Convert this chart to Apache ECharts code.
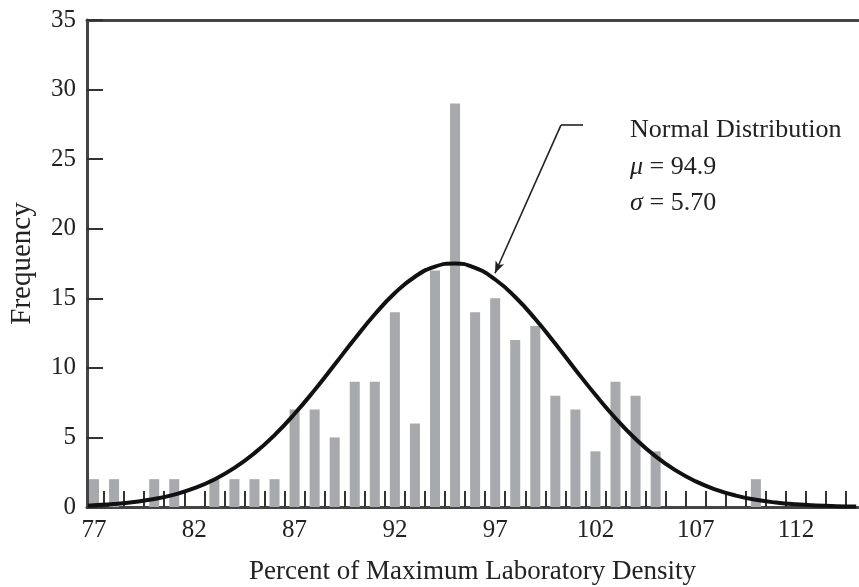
<!DOCTYPE html>
<html>
<head>
<meta charset="utf-8">
<script src="https://cdn.jsdelivr.net/npm/echarts@6/dist/echarts.min.js"></script>
<style>
html,body{margin:0;padding:0;background:#fff;}
#chart{width:859px;height:587px;}
</style>
</head>
<body>
<div id="chart"></div>
<script>
// ---- data ----
const binCenters = [77,78,79,80,81,82,83,84,85,86,87,88,89,90,91,92,93,94,95,96,97,98,99,100,101,102,103,104,105,106,107,108,109,110,111,112,113,114];
const frequencies = [2,2,0,2,2,0,2,2,2,2,7,7,5,9,9,14,6,17,29,14,15,12,13,8,7,4,9,8,4,0,0,0,0,2,0,0,0,0];
const binEdges = [77.5,78.5,79.5,80.5,81.5,82.5,83.5,84.5,85.5,86.5,87.5,88.5,89.5,90.5,91.5,92.5,93.5,94.5,95.5,96.5,97.5,98.5,99.5,100.5,101.5,102.5,103.5,104.5,105.5,106.5,107.5,108.5,109.5,110.5,111.5,112.5,113.5,114.5];
const xTickLabels = [77,82,87,92,97,102,107,112];
const curveX = [76.7,77,78,79,80,81,82,83,84,85,86,87,88,89,90,91,92,93,94,95,96,97,98,99,100,101,102,103,104,105,106,107,108,109,110,111,112,113,114,115];
const curveY = [0.11,0.13,0.22,0.36,0.57,0.89,1.35,1.98,2.81,3.87,5.17,6.70,8.41,10.24,12.09,13.85,15.38,16.55,17.28,17.50,17.18,16.35,15.09,13.51,11.73,9.87,8.06,6.38,4.89,3.64,2.63,1.84,1.25,0.82,0.52,0.32,0.19,0.11,0.06,0.03];
const annotationTitle = 'Normal Distribution';
const annotationSymbols = ['\u03bc', '\u03c3'];
const annotationValues = [' = 94.9', ' = 5.70'];
const arrowTip = [96.99, 16.8];
const arrowCorner = [100.28, 27.45];
const arrowEnd = [101.38, 27.45];

const FONT = "Liberation Serif";
const TXT = '#222';
const AXIS = '#444';

const chart = echarts.init(document.getElementById('chart'), null, {renderer:'canvas'});

const graphics = [{
  type: 'text', left: 630, top: 117, z: 10,
  style: {text: annotationTitle, fontSize: 26, fontFamily: FONT, fill: TXT}
}];
annotationSymbols.forEach((s, i) => {
  graphics.push({
    type: 'text', left: 630, top: 117 + (i + 1) * 36.7, z: 10,
    style: {text: s, fontSize: 26, fontStyle: 'italic', fontFamily: FONT, fill: TXT}
  });
  graphics.push({
    type: 'text', left: 643, top: 117 + (i + 1) * 36.7, z: 10,
    style: {text: annotationValues[i], fontSize: 26, fontFamily: FONT, fill: TXT}
  });
});

const option = {
  animation: false,
  backgroundColor: '#fff',
  grid: {left: 87, right: 1, top: 20, bottom: 80, containLabel: false, outerBoundsMode: 'none'},
  xAxis: [{
    type: 'value', min: 76.65, max: 115.09, position: 'bottom',
    axisLine: {show: true, onZero: false, lineStyle: {color: AXIS, width: 3}},
    axisTick: {show: true, inside: true, length: 16, customValues: binEdges, lineStyle: {color: '#333', width: 2}},
    axisLabel: {show: true, customValues: xTickLabels, margin: 11, fontSize: 25, fontFamily: FONT, color: TXT},
    splitLine: {show: false},
    name: 'Percent of Maximum Laboratory Density', nameLocation: 'middle', nameGap: 51,
    nameTextStyle: {fontSize: 27, fontFamily: FONT, color: TXT}
  }, {
    type: 'value', min: 76.65, max: 115.09, position: 'top',
    axisLine: {show: true, onZero: false, lineStyle: {color: AXIS, width: 3}},
    axisTick: {show: false}, axisLabel: {show: false}, splitLine: {show: false}
  }],
  yAxis: {
    type: 'value', min: 0, max: 35, interval: 5,
    axisLine: {show: true, onZero: false, lineStyle: {color: AXIS, width: 3}},
    axisTick: {show: true, inside: true, length: 16, lineStyle: {color: '#333', width: 2}},
    axisLabel: {margin: 11, fontSize: 25, fontFamily: FONT, color: TXT},
    splitLine: {show: false},
    name: 'Frequency', nameLocation: 'middle', nameGap: 50, nameRotate: 90,
    nameTextStyle: {fontSize: 29, fontFamily: FONT, color: TXT}
  },
  series: [{
    type: 'bar', xAxisIndex: 0, barWidth: 10, z: 2,
    itemStyle: {color: '#a7a9ac'},
    data: binCenters.map((c, i) => [c, frequencies[i]])
  }, {
    type: 'line', xAxisIndex: 0, smooth: true, showSymbol: false, symbol: 'none', z: 4,
    lineStyle: {color: '#111', width: 4},
    data: curveX.map((x, i) => [x, curveY[i]]),
    markLine: {
      silent: true, animation: false,
      symbol: ['none', 'none'],
      label: {show: false},
      lineStyle: {color: '#222', width: 1.6, type: 'solid'},
      data: [
        [{coord: arrowCorner, symbol: 'none'}, {coord: arrowTip, symbol: 'arrow', symbolSize: [7, 12]}],
        [{coord: arrowCorner, symbol: 'none'}, {coord: arrowEnd, symbol: 'none'}]
      ]
    }
  }],
  graphic: graphics
};
chart.setOption(option);
</script>
</body>
</html>
